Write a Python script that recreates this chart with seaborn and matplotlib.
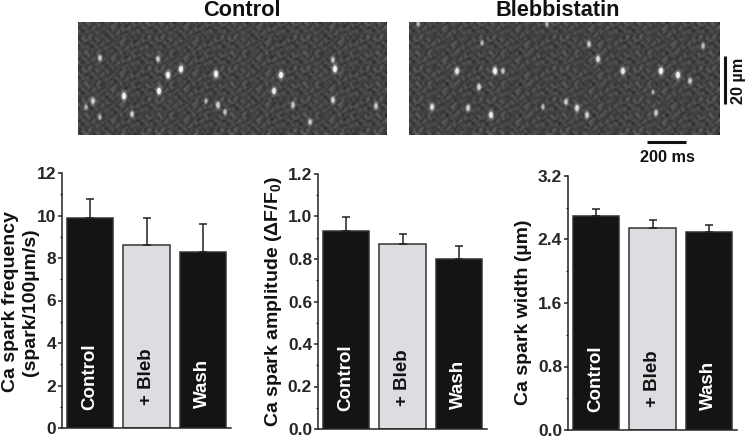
import numpy as np
import pandas as pd
import matplotlib
matplotlib.use("Agg")
import matplotlib.pyplot as plt
from matplotlib.path import Path
from matplotlib.transforms import Affine2D
from matplotlib.ticker import MultipleLocator
import seaborn as sns

# treatment groups
groups = ["Control", "+ Bleb", "Wash"]

# bar values and top of the error bars
freq_mean = [9.9, 8.6, 8.3]
freq_top = [10.8, 9.9, 9.6]
amp_mean = [0.93, 0.87, 0.80]
amp_top = [1.00, 0.92, 0.86]
width_mean = [2.70, 2.55, 2.50]
width_top = [2.78, 2.65, 2.58]

# bright spots on the line scans, x and y in image pixels, with brightness
control_x = [22, 80, 103, 90, 138, 203, 257, 255, 81, 196, 46, 15, 255, 140, 215, 298, 54, 147, 232, 22, 8, 128]
control_y = [36, 37, 47, 53, 52, 53, 47, 38, 69, 69, 74, 79, 78, 83, 83, 84, 92, 90, 100, 95, 85, 79]
control_b = [.6, .6, 1, 1, 1, 1, 1, .5, 1, .9, 1, .7, .7, .7, .6, .6, .6, .5, .6, .4, .4, .4]
bleb_x = [48, 86, 94, 70, 23, 59, 82, 134, 157, 168, 178, 189, 180, 214, 252, 269, 281, 294, 247, 73, 9, 138, 244]
bleb_y = [49, 49, 49, 65, 85, 86, 93, 85, 80, 86, 93, 37, 22, 49, 49, 53, 59, 24, 91, 21, 2, 2, 70]
bleb_b = [.9, 1, .5, .7, .8, .7, .9, .4, .6, .8, .7, .8, .6, .9, 1, 1, .6, .5, .6, .4, .4, .4, .3]

# hand typed grain block for the noisy scan background, grey levels
grain = [
    [60, 105, 35, 78, 118, 45, 88, 30, 100, 65, 40],
    [96, 40, 82, 28, 70, 110, 36, 78, 50, 114, 74],
    [30, 74, 114, 55, 92, 24, 64, 122, 40, 82, 28],
    [82, 50, 28, 105, 40, 78, 110, 45, 74, 30, 96],
    [110, 36, 70, 45, 122, 50, 28, 88, 60, 105, 55],
    [45, 92, 55, 88, 24, 74, 100, 36, 114, 40, 78],
    [74, 28, 100, 36, 82, 114, 50, 70, 28, 92, 45],
]

sns.set_theme(style="ticks")
plt.rcParams["font.family"] = ["Liberation Sans", "DejaVu Sans"]
plt.rcParams["font.weight"] = "bold"
plt.rcParams["mathtext.fontset"] = "custom"
plt.rcParams["mathtext.bf"] = "Liberation Sans:bold"
plt.rcParams["mathtext.rm"] = "Liberation Sans:bold"
plt.rcParams["mathtext.default"] = "bf"

W, H = 746, 437
fig = plt.figure(figsize=(W / 100, H / 100), dpi=100)
spark = Path.unit_circle().transformed(Affine2D().scale(0.62, 1.0))


def box(left, top, right, bottom):
    return [left / W, 1 - bottom / H, (right - left) / W, (bottom - top) / H]


def scan(rect, xs, ys, bright, shift):
    ax = fig.add_axes(box(*rect))
    w, h = rect[2] - rect[0], rect[3] - rect[1]
    tile = np.array(grain)
    # three blocks side by side with a row shift so the repeat shows less
    strip = np.hstack([tile, np.roll(tile, 2 + shift, axis=0), np.roll(tile, 5, axis=1)])
    noise = np.tile(np.vstack([strip, np.roll(strip, 4, axis=1)]), (6, 6))
    ax.imshow(noise[:int(h / 2.2), :int(w / 2.2)], cmap="gray", vmin=0, vmax=255, aspect="auto",
              interpolation="bicubic", extent=(0, w, h, 0))
    ax.set_xlim(0, w)
    ax.set_ylim(h, 0)
    ax.axis("off")
    xs, ys, bright = np.array(xs), np.array(ys), np.array(bright)
    # soft glow, then the core of each spark
    ax.scatter(xs, ys, s=90 * bright, c="white", alpha=0.12, linewidths=0, marker=spark, zorder=3)
    ax.scatter(xs, ys, s=45 * bright, c="white", alpha=0.3, linewidths=0, marker=spark, zorder=3)
    ax.scatter(xs, ys, s=20 * bright, c="white", alpha=0.9 * bright, linewidths=0, marker=spark, zorder=4)


def bars(rect, means, tops, ymax, major, minor, fmt):
    ax = fig.add_axes(box(*rect))
    df = pd.DataFrame({"group": groups, "value": means})
    sns.barplot(data=df, x="group", y="value", hue="group", ax=ax, width=0.82, legend=False,
                palette=["#141414", "#dcdde0", "#141414"], edgecolor="#333333", linewidth=1.1,
                saturation=1)
    ax.errorbar(range(3), means, yerr=[np.zeros(3), np.array(tops) - np.array(means)], fmt="none",
                ecolor="#222222", elinewidth=1.1, capsize=3, capthick=1.1, zorder=1)
    ax.set_xlim(-0.5, 2.5)
    ax.set_ylim(0, ymax)
    ax.set_xlabel("")
    ax.set_ylabel("")
    ax.set_xticks([])
    ax.yaxis.set_major_locator(MultipleLocator(major))
    ax.yaxis.set_minor_locator(MultipleLocator(minor))
    ax.yaxis.set_major_formatter(fmt)
    ax.tick_params(axis="y", which="major", length=2.8, width=1.1, labelsize=12.5, pad=1.5, color="#222222")
    ax.tick_params(axis="y", which="minor", length=1.6, width=0.9, color="#222222")
    sns.despine(ax=ax)
    for side in ["left", "bottom"]:
        ax.spines[side].set_linewidth(1.1)
        ax.spines[side].set_color("#222222")
    for i, g in enumerate(groups):
        ax.text(i, [0.072, 0.09, 0.08][i], g, transform=ax.get_xaxis_transform(), rotation=90,
                ha="center", va="bottom", fontsize=13.5, fontweight="bold",
                color="white" if i != 1 else "#111111")


scan((78, 22, 387, 135), control_x, control_y, control_b, 0)
scan((409, 22, 719, 135), bleb_x, bleb_y, bleb_b, 1)

bars((62, 173, 231, 428), freq_mean, freq_top, 12, 2, 1, "{x:.0f}")
bars((318, 174, 487, 429), amp_mean, amp_top, 1.2, 0.2, 0.1, "{x:.1f}")
bars((568, 176, 737, 430), width_mean, width_top, 3.2, 0.8, 0.4, "{x:.1f}")

# overlay in picture pixels for the titles, labels and scale bars
over = fig.add_axes([0, 0, 1, 1])
over.set_xlim(0, W)
over.set_ylim(H, 0)
over.axis("off")
over.patch.set_alpha(0)

over.text(241.5, 16.5, "Control", ha="center", va="baseline", fontsize=15.7, color="#111111")
over.text(558, 15.5, "Blebbistatin", ha="center", va="baseline", fontsize=15.7, color="#111111")
over.plot([647, 686], [142, 142], color="#111111", lw=2.2, solid_capstyle="butt")
over.plot([724.5, 724.5], [56, 104], color="#111111", lw=2.2, solid_capstyle="butt")
over.text(667.5, 157, "200 ms", ha="center", va="center", fontsize=11.7, color="#111111")
over.text(738, 81, "20 µm", ha="center", va="center", rotation=90, fontsize=11.7, color="#111111")

over.text(20.5, 302, "Ca spark frequency\n(spark/100µm/s)", ha="center", va="center", rotation=90,
          multialignment="center", fontsize=14, linespacing=1.2, color="#111111")
over.text(273, 302, "Ca spark amplitude (ΔF/F$_{0}$)", ha="center", va="center", rotation=90,
          fontsize=14, color="#111111")
over.text(524, 312, "Ca spark width (µm)", ha="center", va="center", rotation=90,
          fontsize=14, color="#111111")

fig.savefig("out.png", dpi=100)
